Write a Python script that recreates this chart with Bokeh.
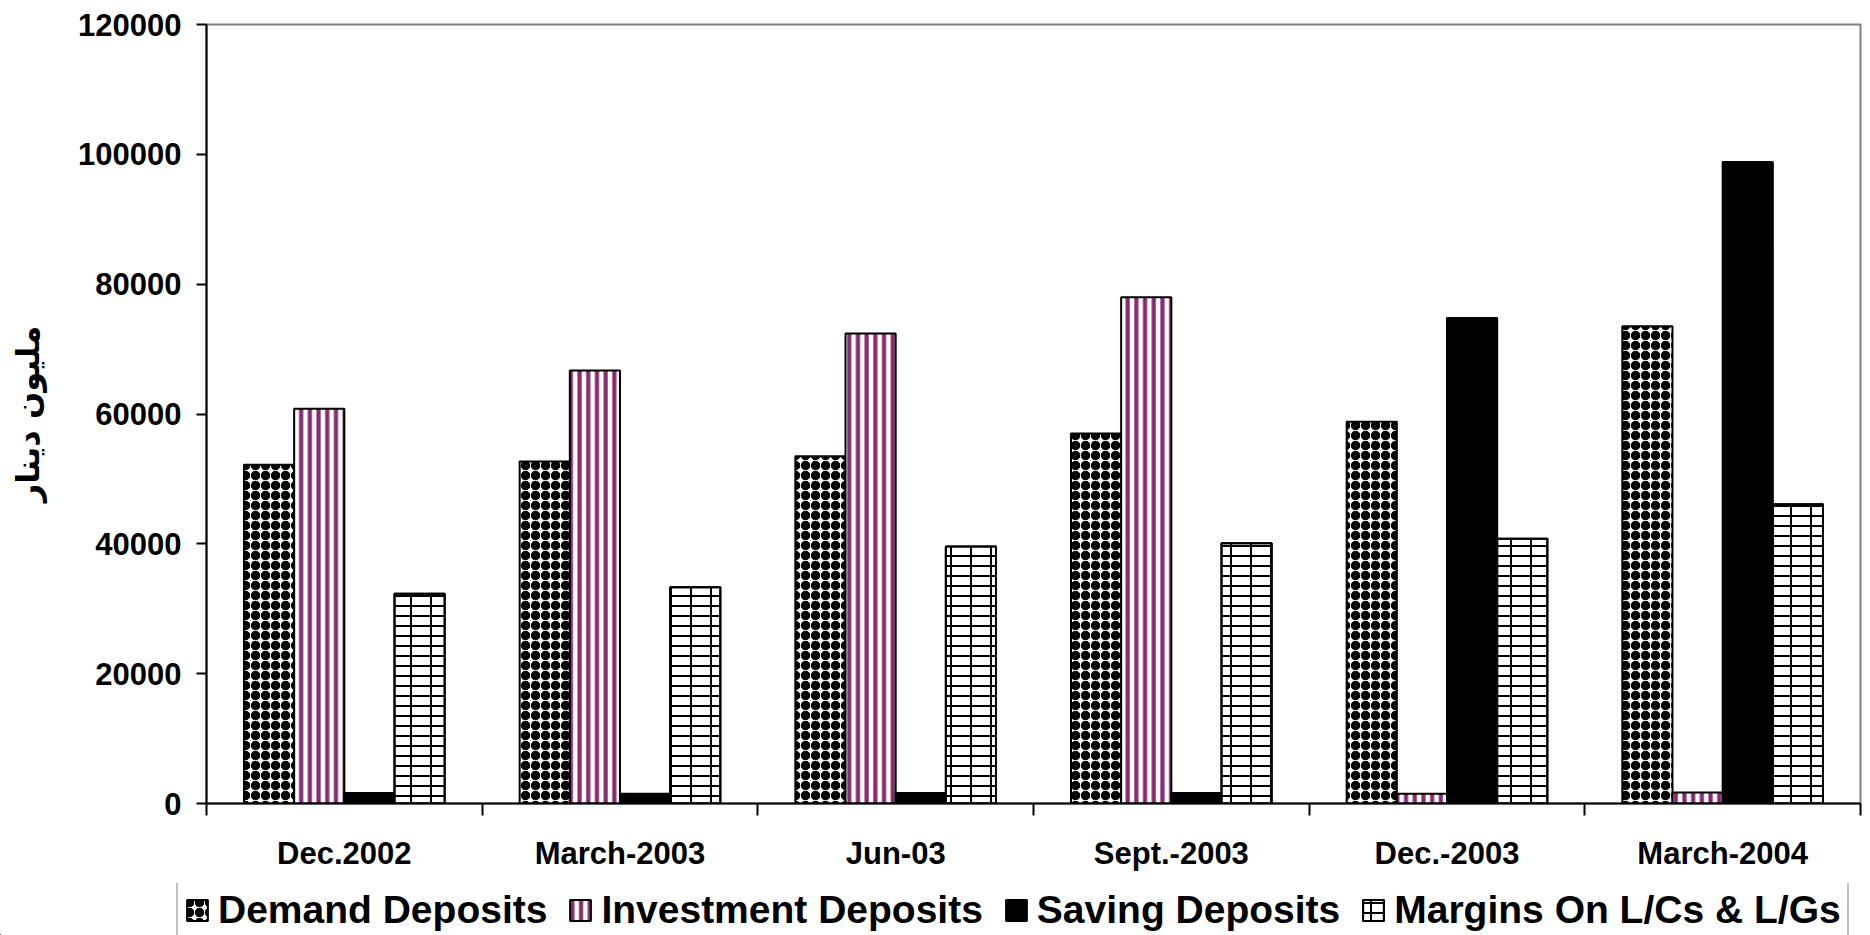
from bokeh.plotting import figure
from bokeh.models import (ColumnDataSource, Range1d, FixedTicker, Legend, LegendItem,
                          NumeralTickFormatter)
from bokeh.embed import file_html
from bokeh.resources import INLINE

# ---- data ----
categories = ["Dec.2002", "March-2003", "Jun-03", "Sept.-2003", "Dec.-2003", "March-2004"]
demand_deposits = [52200, 52700, 53500, 57000, 58800, 73500]
investment_deposits = [60800, 66700, 72400, 78000, 1500, 1700]
saving_deposits = [1600, 1500, 1600, 1600, 74800, 98800]
margins_deposits = [32300, 33300, 39600, 40100, 40800, 46100]
series_names = ["Demand Deposits", "Investment Deposits", "Saving Deposits", "Margins On L/Cs & L/Gs"]
y_ticks = [0, 20000, 40000, 60000, 80000, 100000, 120000]
y_title = "مليون دينار"

BAR_W = 0.182
offsets = [-1.5 * BAR_W, -0.5 * BAR_W, 0.5 * BAR_W, 1.5 * BAR_W]
centers = [i + 0.5 for i in range(len(categories))]
FONT = "Liberation Sans"
PURPLE = "#882A6E"

STYLES = [
    dict(fill_color="white", line_color="black", line_width=2,
         hatch_pattern="ring", hatch_color="black", hatch_scale=10, hatch_weight=4.5),
    dict(fill_color="white", line_color="black", line_width=2,
         hatch_pattern="vertical_line", hatch_color=PURPLE, hatch_scale=8.7, hatch_weight=4.2),
    dict(fill_color="black", line_color="black", line_width=2),
    dict(fill_color="white", line_color="black", line_width=2,
         hatch_pattern="horizontal_line", hatch_color="black", hatch_scale=10, hatch_weight=2),
]
BRICK_V = dict(fill_alpha=0, line_color="black", line_width=2,
               hatch_pattern="vertical_line", hatch_color="black", hatch_scale=20, hatch_weight=2)


def src(vals, k):
    return ColumnDataSource(dict(x=[c + offsets[k] for c in centers], top=vals))


p = figure(width=1870, height=883, output_backend="svg", toolbar_location=None,
           x_range=Range1d(0, len(categories)), y_range=Range1d(0, 120000),
           min_border_left=206, min_border_top=24, min_border_right=10, min_border_bottom=80)
p.background_fill_color = "white"
p.border_fill_color = "white"
p.outline_line_color = "#808080"
p.outline_line_width = 2
p.xgrid.visible = False
p.ygrid.visible = False

series = [demand_deposits, investment_deposits, saving_deposits, margins_deposits]
for k, vals in enumerate(series):
    s = src(vals, k)
    p.vbar(x="x", top="top", width=BAR_W, bottom=0, source=s, **STYLES[k])
    if k == 3:
        p.vbar(x="x", top="top", width=BAR_W, bottom=0, source=s, **BRICK_V)

# x axis
xa = p.xaxis[0]
xa.ticker = FixedTicker(ticks=centers, minor_ticks=list(range(len(categories) + 1)))
xa.major_label_overrides = {c: lab for c, lab in zip(centers, categories)}
xa.major_tick_line_color = None
xa.major_tick_out = 0
xa.major_tick_in = 0
xa.minor_tick_line_color = "black"
xa.minor_tick_line_width = 2
xa.minor_tick_out = 12
xa.minor_tick_in = 0
xa.axis_line_color = "black"
xa.axis_line_width = 2
xa.major_label_text_font = FONT
xa.major_label_text_font_style = "bold"
xa.major_label_text_font_size = "31px"
xa.major_label_text_color = "black"
xa.major_label_standoff = 20

# y axis
ya = p.yaxis[0]
ya.ticker = FixedTicker(ticks=y_ticks, minor_ticks=[])
ya.formatter = NumeralTickFormatter(format="0")
ya.major_tick_line_color = "black"
ya.major_tick_line_width = 2
ya.major_tick_out = 10
ya.major_tick_in = 0
ya.minor_tick_line_color = None
ya.axis_line_color = "black"
ya.axis_line_width = 2
ya.major_label_text_font = FONT
ya.major_label_text_font_style = "bold"
ya.major_label_text_font_size = "31px"
ya.major_label_text_color = "black"
ya.major_label_standoff = 15
ya.axis_label = y_title
ya.axis_label_text_font = "DejaVu Sans"
ya.axis_label_text_font_style = "bold"
ya.axis_label_text_font_size = "32px"
ya.axis_label_text_color = "black"
ya.axis_label_standoff = 28

# ---- legend strip (separate root figure, stacked below) ----
LEG_H = 52
lf = figure(width=1870, height=LEG_H, output_backend="svg", toolbar_location=None,
            x_axis_type=None, y_axis_type=None,
            x_range=Range1d(0, 1), y_range=Range1d(0, 1),
            min_border_left=0, min_border_right=0, min_border_top=0, min_border_bottom=0)
lf.outline_line_color = None
lf.xgrid.visible = False
lf.ygrid.visible = False
lf.background_fill_color = "white"
lf.border_fill_color = "white"

items = []
for k, name in enumerate(series_names):
    # proxy renderers placed outside the visible range, only their styles are used
    proxy = ColumnDataSource(dict(x=[-10], top=[-10]))
    rs = [lf.vbar(x="x", top="top", width=1, bottom=-11, source=proxy, **STYLES[k])]
    if k == 3:
        rs.append(lf.vbar(x="x", top="top", width=1, bottom=-11, source=proxy, **BRICK_V))
    items.append(LegendItem(label=name, renderers=rs))

legend = Legend(items=items, orientation="horizontal", location=(176, -5))
legend.label_text_font = FONT
legend.label_text_font_style = "bold"
legend.label_text_font_size = "39px"
legend.label_text_color = "black"
legend.glyph_width = 26
legend.glyph_height = 26
legend.label_standoff = 8
legend.spacing = 20
legend.padding = 6
legend.margin = 0
legend.border_line_color = "#808080"
legend.border_line_width = 2
legend.background_fill_color = "white"
lf.add_layout(legend, "center")

open("out.html", "w").write(file_html([p, lf], INLINE))
